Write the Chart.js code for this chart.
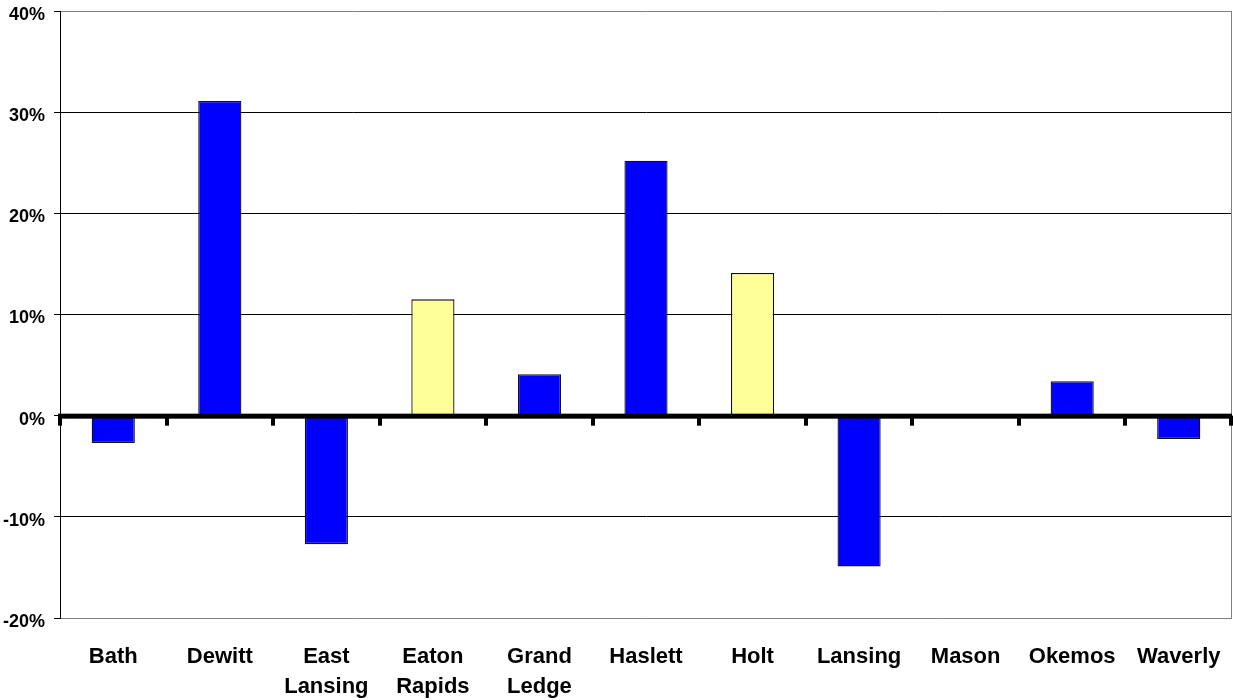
<!DOCTYPE html>
<html>
<head>
<meta charset="utf-8">
<script src="https://cdn.jsdelivr.net/npm/chart.js@4/dist/chart.umd.min.js"></script>
<style>
html,body{margin:0;padding:0;background:#fff;}
#wrap{width:1233px;height:700px;position:relative;}
</style>
</head>
<body>
<div id="wrap"><canvas id="c"></canvas></div>
<script>
const categories = [["Bath"],["Dewitt"],["East","Lansing"],["Eaton","Rapids"],["Grand","Ledge"],["Haslett"],["Holt"],["Lansing"],["Mason"],["Okemos"],["Waverly"]];
const values = [-2.7, 31.1, -12.7, 11.5, 4.1, 25.2, 14.1, -14.9, 0, 3.4, -2.3];
const highlighted = [false, false, false, true, false, false, true, false, false, false, false];
const yMin = -20, yMax = 40, yStep = 10;

const barColors = highlighted.map(h => h ? '#FFFF99' : '#0000FF');

const zeroAxis = {
  id: 'zeroAxis',
  afterDatasetsDraw(chart) {
    const {ctx, chartArea, scales} = chart;
    const y0 = scales.y.getPixelForValue(0);
    const x = scales.x;
    const n = categories.length;
    const half = (x.getPixelForValue(1) - x.getPixelForValue(0)) / 2;
    ctx.save();
    ctx.strokeStyle = '#808080';
    ctx.lineWidth = 1;
    ctx.beginPath();
    ctx.moveTo(chartArea.right - 0.5, chartArea.top);
    ctx.lineTo(chartArea.right - 0.5, chartArea.bottom);
    ctx.stroke();
    ctx.fillStyle = '#000';
    ctx.fillRect(chartArea.left - 2, y0 - 2, chartArea.right - chartArea.left + 2, 5);
    for (let i = 0; i <= n; i++) {
      const px = Math.round(x.getPixelForValue(i) - half);
      ctx.fillRect(Math.min(px - 2, chartArea.right - 3), y0, 4, 10);
    }
    ctx.restore();
  }
};

new Chart(document.getElementById('c'), {
  type: 'bar',
  data: {
    labels: categories,
    datasets: [{
      data: values,
      backgroundColor: barColors,
      borderColor: '#111',
      borderWidth: 1.3,
      barPercentage: 0.405,
      categoryPercentage: 1.0
    }]
  },
  options: {
    responsive: true,
    maintainAspectRatio: false,
    animation: false,
    layout: {padding: {top: 11, right: 1, left: 0, bottom: 0}},
    plugins: {legend: {display: false}, tooltip: {enabled: false}},
    scales: {
      x: {
        grid: {display: false},
        border: {display: false},
        ticks: {
          color: '#000',
          font: {family: 'Liberation Sans, Arial, sans-serif', size: 22, weight: 'bold', lineHeight: 1.36},
          maxRotation: 0,
          autoSkip: false,
          padding: 16
        },
        afterFit(scale) { scale.height = 82; scale.paddingLeft = 0; scale.paddingRight = 0; }
      },
      y: {
        min: yMin, max: yMax,
        grid: {
          color: ctx => (ctx.tick && (ctx.tick.value === yMax || ctx.tick.value === yMin)) ? '#808080' : '#000',
          tickColor: '#000',
          lineWidth: 1,
          tickLength: 6,
          drawTicks: true
        },
        border: {display: true, color: '#000', width: 1},
        ticks: {
          stepSize: yStep,
          color: '#000',
          padding: 9,
          labelOffset: 4,
          font: {family: 'Liberation Sans, Arial, sans-serif', size: 18, weight: 'bold'},
          callback: v => v + '%'
        },
        afterFit(scale) { scale.width = 60; scale.paddingTop = 0; scale.paddingBottom = 0; }
      }
    }
  },
  plugins: [zeroAxis]
});
</script>
</body>
</html>
